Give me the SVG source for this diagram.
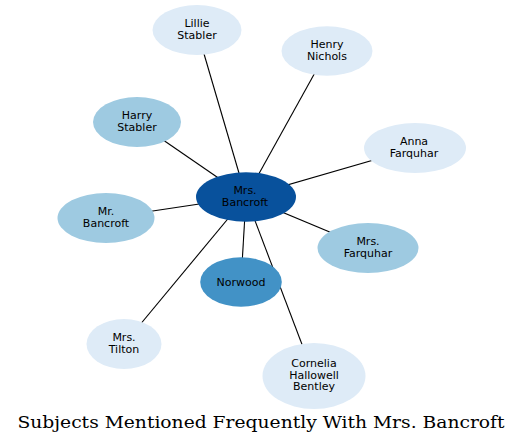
<svg xmlns="http://www.w3.org/2000/svg" width="523" height="445" viewBox="0 0 523 445">
<style>
.e{stroke:#000;stroke-width:1.1;fill:none}
.n text{font-family:"DejaVu Sans",sans-serif;font-size:11px;text-anchor:middle;fill:#000}
.l0{fill:#deebf7}
.l1{fill:#9ecae1}
.l2{fill:#4292c6}
.l3{fill:#08519c}
.t{font-family:"DejaVu Serif",serif;font-size:17px;text-anchor:middle;fill:#000}
</style>
<rect width="523" height="445" fill="#fff"/>
<g id="edges">
<line class="e" x1="246" y1="197" x2="197" y2="30"/>
<line class="e" x1="246" y1="197" x2="327" y2="51"/>
<line class="e" x1="246" y1="197" x2="137" y2="122"/>
<line class="e" x1="246" y1="197" x2="415" y2="148"/>
<line class="e" x1="246" y1="197" x2="106" y2="218"/>
<line class="e" x1="246" y1="197" x2="368" y2="248"/>
<line class="e" x1="246" y1="197" x2="241" y2="282"/>
<line class="e" x1="246" y1="197" x2="124" y2="344"/>
<line class="e" x1="246" y1="197" x2="314" y2="376"/>
</g>
<g id="lillie" class="n"><ellipse class="l0" cx="197" cy="30" rx="44.5" ry="25"/><text x="197" y="26.5">Lillie</text><text x="197" y="38.5">Stabler</text></g>
<g id="henry" class="n"><ellipse class="l0" cx="327" cy="51" rx="45.5" ry="24.7"/><text x="327" y="47.5">Henry</text><text x="327" y="59.5">Nichols</text></g>
<g id="harry" class="n"><ellipse class="l1" cx="137" cy="122" rx="44" ry="25"/><text x="137" y="118.5">Harry</text><text x="137" y="130.5">Stabler</text></g>
<g id="anna" class="n"><ellipse class="l0" cx="415" cy="148" rx="51" ry="25"/><text x="414" y="144.5">Anna</text><text x="414" y="156.5">Farquhar</text></g>
<g id="mrbancroft" class="n"><ellipse class="l1" cx="106" cy="218" rx="48.5" ry="25"/><text x="106" y="214.5">Mr.</text><text x="106" y="226.5">Bancroft</text></g>
<g id="mrsbancroft" class="n"><ellipse class="l3" cx="246" cy="197" rx="50" ry="24.7"/><text x="245" y="194">Mrs.</text><text x="245" y="206">Bancroft</text></g>
<g id="mrsfarquhar" class="n"><ellipse class="l1" cx="368" cy="248" rx="50.5" ry="25"/><text x="368" y="244.5">Mrs.</text><text x="368" y="256.5">Farquhar</text></g>
<g id="norwood" class="n"><ellipse class="l2" cx="241" cy="282" rx="40.8" ry="24.7"/><text x="241" y="285.5">Norwood</text></g>
<g id="tilton" class="n"><ellipse class="l0" cx="124" cy="344" rx="37.5" ry="25"/><text x="124" y="340.5">Mrs.</text><text x="124" y="352.5">Tilton</text></g>
<g id="cornelia" class="n"><ellipse class="l0" cx="314" cy="376" rx="51.5" ry="33"/><text x="314" y="366.5">Cornelia</text><text x="314" y="378.5">Hallowell</text><text x="314" y="390">Bentley</text></g>
<text class="t" x="261" y="428" textLength="487" lengthAdjust="spacingAndGlyphs">Subjects Mentioned Frequently With Mrs. Bancroft</text>
</svg>
